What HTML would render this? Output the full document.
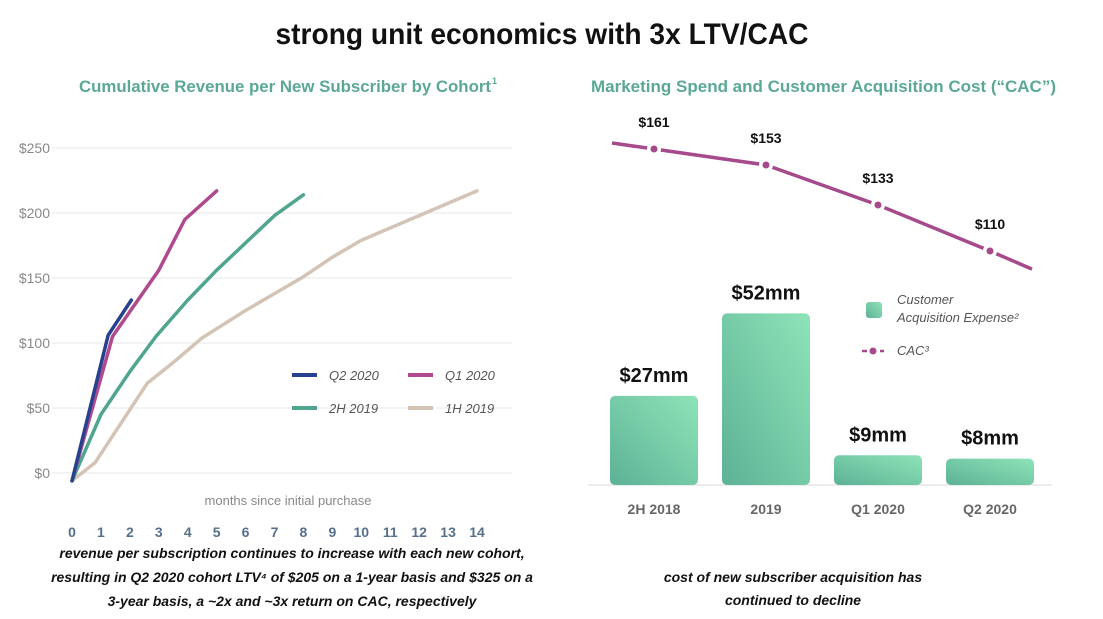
<!DOCTYPE html>
<html><head><meta charset="utf-8"><style>
body{margin:0;background:#fff;}
svg{display:block;font-family:"Liberation Sans",sans-serif;}
</style></head><body>
<svg id="s" width="1103" height="619" viewBox="0 0 1103 619">
<defs>
<linearGradient id="bg" x1="1" y1="0" x2="0" y2="1"><stop offset="0" stop-color="#8fe3b8"/><stop offset="1" stop-color="#5db296"/></linearGradient>
</defs>
<text x="542" y="44" text-anchor="middle" font-size="30" font-weight="bold" fill="#111" textLength="533" lengthAdjust="spacingAndGlyphs">strong unit economics with 3x LTV/CAC</text>
<text x="79" y="92" font-size="17" font-weight="bold" fill="#5aa895" textLength="412" lengthAdjust="spacingAndGlyphs">Cumulative Revenue per New Subscriber by Cohort</text>
<text x="492" y="84" font-size="9" font-weight="bold" fill="#5aa895">1</text>
<text x="591" y="92" font-size="17" font-weight="bold" fill="#5aa895" textLength="465" lengthAdjust="spacingAndGlyphs">Marketing Spend and Customer Acquisition Cost (“CAC”)</text>
<g id="left"></g>
<g id="right"></g>
<g font-size="14" font-weight="bold" font-style="italic" fill="#111" text-anchor="middle">
<text x="292" y="558">revenue per subscription continues to increase with each new cohort,</text>
<text x="292" y="582">resulting in Q2 2020 cohort LTV⁴ of $205 on a 1-year basis and $325 on a</text>
<text x="292" y="606">3-year basis, a ~2x and ~3x return on CAC, respectively</text>
</g>
<g font-size="14" font-weight="bold" font-style="italic" fill="#111" text-anchor="middle">
<text x="793" y="582">cost of new subscriber acquisition has</text>
<text x="793" y="605">continued to decline</text>
</g>
</svg>
<script>
const NS='http://www.w3.org/2000/svg';
const yTicks=[0,50,100,150,200,250];
const xTicks=[0,1,2,3,4,5,6,7,8,9,10,11,12,13,14];
const q2Months=[0,1.25,2.05];
const q2Values=[-6,106,133];
const q1Months=[0,1.4,3,3.9,5];
const q1Values=[-6,105,156,195,217];
const h2Months=[0,1,2,2.9,4,5,6,7,8];
const h2Values=[-6,45,78,105,133,156,177,198,214];
const h1Months=[0,0.8,2.6,3.5,4.5,6,7,8,9,10,12,14];
const h1Values=[-6,8,69,85,104,125,138,151,166,179,198,217];
const barCats=['2H 2018','2019','Q1 2020','Q2 2020'];
const barValues=[27,52,9,8];
const barLabels=['$27mm','$52mm','$9mm','$8mm'];
const cacValues=[161,153,133,110];
const cacLabels=['$161','$153','$133','$110'];

function mk(t,a,p){const e=document.createElementNS(NS,t);for(const k in a)e.setAttribute(k,a[k]);p.appendChild(e);return e;}
const L=document.getElementById('left');
const xL=m=>72+m*28.93, yL=v=>473-v*1.3;
yTicks.forEach(v=>{
 const g=mk('line',{x1:52,x2:512,y1:yL(v),y2:yL(v),stroke:'#ececec','stroke-width':1.2},L);
 
 
 const t=mk('text',{x:50,y:yL(v)+5,'text-anchor':'end','font-size':14,fill:'#888'},L);t.textContent='$'+v;
 
 
});
xTicks.forEach(m=>{
 const t=mk('text',{x:xL(m),y:537,'text-anchor':'middle','font-size':14,'font-weight':'bold',fill:'#56708c'},L);t.textContent=m;
 
 
});
const xt=mk('text',{x:288,y:505,'text-anchor':'middle','font-size':13,fill:'#888'},L);xt.textContent='months since initial purchase';


const series=[[h1Months,h1Values,'#d3c4b6','series-1h-2019'],[h2Months,h2Values,'#4fa58e','series-2h-2019'],[q1Months,q1Values,'#b04a8e','series-q1-2020'],[q2Months,q2Values,'#27418f','series-q2-2020']];
series.forEach(s=>{
 const p=mk('polyline',{points:s[0].map((m,i)=>xL(m)+','+yL(s[1][i])).join(' '),fill:'none',stroke:s[2],'stroke-width':3.5,'stroke-linejoin':'round','stroke-linecap':'round'},L);
 
 
});
const leg=[['Q2 2020','#27418f',292,375],['Q1 2020','#b04a8e',408,375],['2H 2019','#4fa58e',292,408],['1H 2019','#d3c4b6',408,408]];
leg.forEach(l=>{
 const g=mk('g',{},L);
 
 
 mk('line',{x1:l[2],x2:l[2]+25,y1:l[3],y2:l[3],stroke:l[1],'stroke-width':4},g);
 const t=mk('text',{x:l[2]+37,y:l[3]+5,'font-size':13,'font-style':'italic',fill:'#555'},g);t.textContent=l[0];
});

const R=document.getElementById('right');
const base=485, bx=i=>654+i*112, yB=v=>base-v*3.3, yC=v=>149+(161-v)*2;
const ax=mk('line',{x1:588,x2:1052,y1:base,y2:base,stroke:'#e6e6e6','stroke-width':1.5},R);


barCats.forEach((c,i)=>{
 const r=mk('rect',{x:bx(i)-44,y:yB(barValues[i]),width:88,height:barValues[i]*3.3,rx:5,fill:'url(#bg)'},R);
 
 
 const v=mk('text',{x:bx(i),y:yB(barValues[i])-14,'text-anchor':'middle','font-size':20,'font-weight':'bold',fill:'#111'},R);v.textContent=barLabels[i];
 
 
 const t=mk('text',{x:bx(i),y:514,'text-anchor':'middle','font-size':14,'font-weight':'bold',fill:'#666'},R);t.textContent=c;
 
 
});
const pts=cacValues.map((v,i)=>[bx(i),yC(v)]);
const n=pts.length;
const first=[pts[0][0]-42,pts[0][1]-(pts[1][1]-pts[0][1])*42/112];
const last=[pts[n-1][0]+42,pts[n-1][1]+(pts[n-1][1]-pts[n-2][1])*42/112*1.05];
const cl=mk('polyline',{points:[first,...pts,last].map(p=>p.join(',')).join(' '),fill:'none',stroke:'#a64a8c','stroke-width':3.5,'stroke-linejoin':'round'},R);


pts.forEach((p,i)=>{
 const c1=mk('circle',{cx:p[0],cy:p[1],r:7,fill:'#fff'},R);
 
 
 const c=mk('circle',{cx:p[0],cy:p[1],r:3.5,fill:'#a64a8c'},R);
 
 
 const t=mk('text',{x:p[0],y:p[1]-22,'text-anchor':'middle','font-size':14,'font-weight':'bold',fill:'#111'},R);t.textContent=cacLabels[i];
 
 
});
const lg=mk('g',{},R);


mk('rect',{x:866,y:302,width:16,height:16,rx:3,fill:'url(#bg)'},lg);
let t1=mk('text',{x:897,y:304,'font-size':13,'font-style':'italic',fill:'#555'},lg);t1.textContent='Customer';
let t2=mk('text',{x:897,y:322,'font-size':13,'font-style':'italic',fill:'#555'},lg);t2.textContent='Acquisition Expense²';
mk('line',{x1:862,x2:884,y1:351,y2:351,stroke:'#a64a8c','stroke-width':2.5,'stroke-dasharray':'5 4'},lg);
mk('circle',{cx:873,cy:351,r:3.5,fill:'#a64a8c'},lg);
let t3=mk('text',{x:897,y:355,'font-size':13,'font-style':'italic',fill:'#555'},lg);t3.textContent='CAC³';
</script>
</body></html>
